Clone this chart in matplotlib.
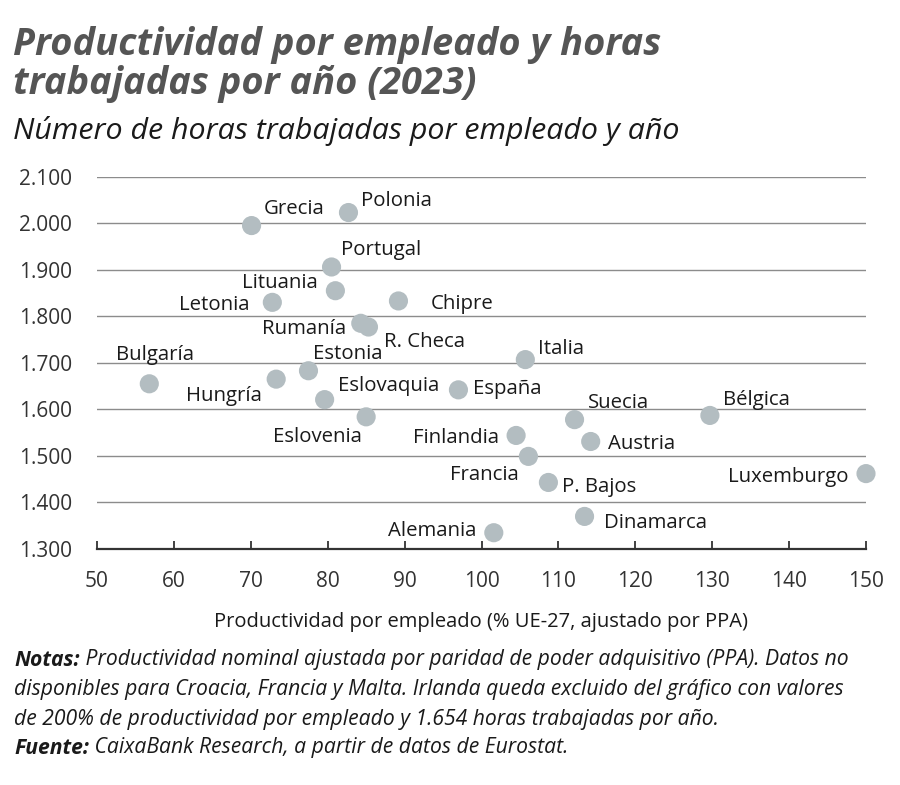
import matplotlib.pyplot as plt
from matplotlib.ticker import FuncFormatter

# Datos
paises = ["Grecia", "Polonia", "Portugal", "Lituania", "Letonia", "Chipre",
          "Rumanía", "R. Checa", "Bulgaría", "Hungría", "Estonia", "Eslovaquia",
          "Eslovenia", "España", "Italia", "Suecia", "Bélgica", "Finlandia",
          "Austria", "Francia", "Luxemburgo", "P. Bajos", "Dinamarca", "Alemania"]
productividad = [70.1, 82.7, 80.5, 81.0, 72.8, 89.2,
                 84.3, 85.3, 56.8, 73.3, 77.5, 79.6,
                 85.0, 97.0, 105.7, 112.1, 129.7, 104.5,
                 114.2, 106.1, 150.0, 108.7, 113.4, 101.6]
horas = [1995, 2023, 1906, 1855, 1830, 1833,
         1785, 1777, 1655, 1665, 1683, 1621,
         1584, 1642, 1707, 1578, 1587, 1544,
         1531, 1499, 1462, 1443, 1370, 1335]

x_ticks = [50, 60, 70, 80, 90, 100, 110, 120, 130, 140, 150]
y_ticks = [1300, 1400, 1500, 1600, 1700, 1800, 1900, 2000, 2100]

titulo = "Productividad por empleado y horas\ntrabajadas por año (2023)"
subtitulo = "Número de horas trabajadas por empleado y año"
xlabel = "Productividad por empleado (% UE-27, ajustado por PPA)"

# posición de etiquetas: (dx px, dy px hacia abajo, alineación)
pos_etiquetas = {
    "Grecia": (12, -18, "left"), "Polonia": (13, -13, "left"),
    "Portugal": (9, -18, "left"), "Lituania": (-18, -9, "right"),
    "Letonia": (-23, 1, "right"), "Chipre": (32, 2, "left"),
    "Rumanía": (-15, 4, "right"), "R. Checa": (16, 14, "left"),
    "Bulgaría": (6, -30, "center"), "Hungría": (-14, 15, "right"),
    "Estonia": (5, -18, "left"), "Eslovaquia": (13, -15, "left"),
    "Eslovenia": (-4, 19, "right"), "España": (15, -2, "left"),
    "Italia": (13, -12, "left"), "Suecia": (13, -18, "left"),
    "Bélgica": (13, -17, "left"), "Finlandia": (-17, 1, "right"),
    "Austria": (17, 1, "left"), "Francia": (-10, 17, "right"),
    "Luxemburgo": (-17, 2, "right"), "P. Bajos": (14, 3, "left"),
    "Dinamarca": (19, 5, "left"), "Alemania": (-17, -3, "right"),
}

plt.rcParams["font.family"] = ["Open Sans", "DejaVu Sans"]

fig = plt.figure(figsize=(9, 7.85), dpi=100)
ax = fig.add_axes([97 / 900, 1 - 549 / 785, 769 / 900, 372.3 / 785])

ax.scatter(productividad, horas, s=190, color="#b3bdc1", edgecolors="none",
           zorder=3, clip_on=False)

for p, xv, yv in zip(paises, productividad, horas):
    dx, dy, ha = pos_etiquetas[p]
    ax.annotate(p, (xv, yv), xytext=(dx * 0.72, -dy * 0.72 - 1), textcoords="offset points",
                ha=ha, va="center", fontsize=14.7, color="#1a1a1a", zorder=4)

ax.set_xlim(50, 150)
ax.set_ylim(1300, 2100)
ax.set_xticks(x_ticks)
ax.set_yticks(y_ticks)
ax.yaxis.set_major_formatter(FuncFormatter(lambda v, _: f"{int(v):,}".replace(",", ".")))
ax.grid(axis="y", color="#8c8c8c", linewidth=1)
ax.set_axisbelow(True)
for s in ["left", "right", "top"]:
    ax.spines[s].set_visible(False)
ax.spines["bottom"].set_color("#333333")
ax.spines["bottom"].set_linewidth(1.6)
ax.tick_params(axis="x", direction="in", length=6, width=1.3, color="#333333",
               pad=16, labelsize=15, labelcolor="#333333")
ax.tick_params(axis="y", length=0, pad=18, labelsize=15, labelcolor="#333333")

fig.text(481 / 900, 1 - 622 / 785, xlabel, ha="center", va="center", fontsize=14.5,
         color="#1a1a1a")

fig.text(13 / 900, 1 - 26 / 785, titulo, ha="left", va="top", fontsize=27.4,
         fontweight="bold", fontstyle="italic", color="#555555", linespacing=1.03)
fig.text(13 / 900, 1 - 131 / 785, subtitulo, ha="left", va="center", fontsize=21.9,
         fontstyle="italic", color="#1a1a1a")

tam_nota = 15.2
t1 = fig.text(14 / 900, 1 - 660 / 785, "Notas:", ha="left", va="center", fontsize=tam_nota,
              fontweight="bold", fontstyle="italic", color="#1a1a1a")
ax.annotate(" Productividad nominal ajustada por paridad de poder adquisitivo (PPA). Datos no",
            xy=(1, 0), xycoords=t1, ha="left", va="bottom", fontsize=tam_nota,
            fontstyle="italic", color="#1a1a1a", annotation_clip=False)
fig.text(14 / 900, 1 - 690 / 785,
         "disponibles para Croacia, Francia y Malta. Irlanda queda excluido del gráfico con valores",
         ha="left", va="center", fontsize=tam_nota, fontstyle="italic", color="#1a1a1a")
fig.text(14 / 900, 1 - 719 / 785,
         "de 200% de productividad por empleado y 1.654 horas trabajadas por año.",
         ha="left", va="center", fontsize=tam_nota, fontstyle="italic", color="#1a1a1a")
t2 = fig.text(14 / 900, 1 - 748 / 785, "Fuente:", ha="left", va="center", fontsize=tam_nota,
              fontweight="bold", fontstyle="italic", color="#1a1a1a")
ax.annotate(" CaixaBank Research, a partir de datos de Eurostat.",
            xy=(1, 0), xycoords=t2, ha="left", va="bottom", fontsize=tam_nota,
            fontstyle="italic", color="#1a1a1a", annotation_clip=False)

fig.savefig("out.png", dpi=100)
